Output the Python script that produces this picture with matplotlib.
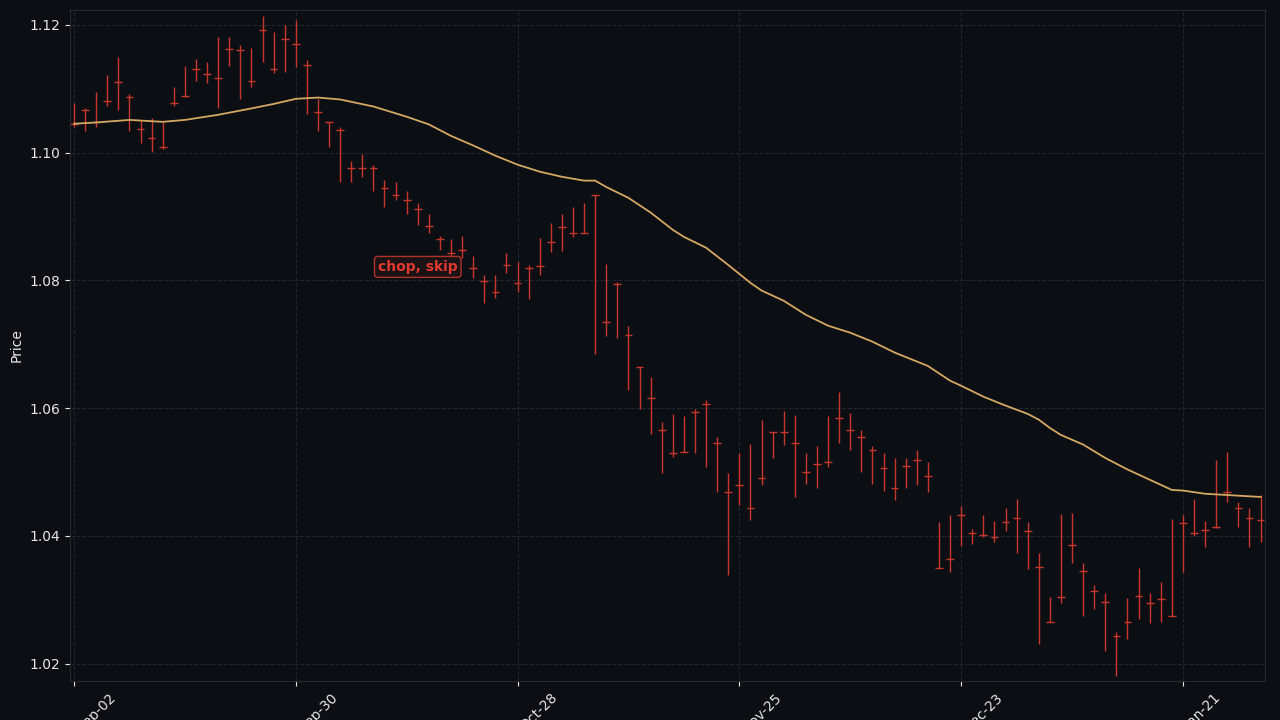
import matplotlib
matplotlib.use("Agg")
import matplotlib.pyplot as plt

high = [1.1078,1.1070,1.1094,1.1122,1.1150,1.1092,1.1051,1.1054,1.1048,1.1103,
        1.1136,1.1147,1.1141,1.1181,1.1181,1.1169,1.1164,1.1213,1.1189,1.1200,
        1.1208,1.1145,1.1083,1.1048,1.1040,1.0986,1.0998,1.0981,1.0957,1.0954,
        1.0939,1.0921,1.0903,1.0870,1.0864,1.0870,1.0838,1.0809,1.0809,1.0843,
        1.0828,1.0824,1.0867,1.0889,1.0904,1.0915,1.0921,1.0934,1.0826,1.0798,
        1.0729,1.0665,1.0649,1.0579,1.0591,1.0587,1.0599,1.0612,1.0555,1.0499,
        1.0530,1.0544,1.0582,1.0563,1.0596,1.0590,1.0529,1.0540,1.0587,1.0626,
        1.0593,1.0566,1.0541,1.0530,1.0522,1.0522,1.0535,1.0515,1.0422,1.0432,
        1.0447,1.0411,1.0432,1.0424,1.0444,1.0458,1.0422,1.0374,1.0305,1.0435,
        1.0436,1.0358,1.0324,1.0311,1.0250,1.0303,1.0350,1.0311,1.0328,1.0427,
        1.0432,1.0458,1.0424,1.0519,1.0532,1.0453,1.0444,1.0464]
low = [1.1040,1.1033,1.1040,1.1073,1.1067,1.1034,1.1015,1.1001,1.1006,1.1073,
       1.1087,1.1112,1.1109,1.1069,1.1136,1.1084,1.1103,1.1141,1.1125,1.1126,
       1.1134,1.1061,1.1033,1.1009,1.0954,1.0954,1.0962,1.0939,1.0914,1.0926,
       1.0903,1.0887,1.0874,1.0848,1.0835,1.0835,1.0804,1.0765,1.0773,1.0812,
       1.0782,1.0770,1.0809,1.0845,1.0846,1.0868,1.0874,1.0684,1.0713,1.0710,
       1.0629,1.0598,1.0560,1.0499,1.0524,1.0532,1.0529,1.0508,1.0469,1.0339,
       1.0449,1.0425,1.0480,1.0522,1.0543,1.0461,1.0482,1.0475,1.0508,1.0546,
       1.0535,1.0500,1.0482,1.0471,1.0457,1.0475,1.0480,1.0468,1.0350,1.0344,
       1.0385,1.0388,1.0399,1.0391,1.0407,1.0374,1.0349,1.0231,1.0266,1.0295,
       1.0358,1.0275,1.0286,1.0220,1.0181,1.0239,1.0270,1.0264,1.0266,1.0275,
       1.0344,1.0400,1.0383,1.0413,1.0453,1.0414,1.0383,1.0391]
close = [1.1045,1.1067,1.1048,1.1081,1.1111,1.1087,1.1037,1.1022,1.1009,1.1078,
         1.1089,1.1130,1.1123,1.1116,1.1162,1.1161,1.1112,1.1192,1.1131,1.1178,
         1.1170,1.1137,1.1064,1.1048,1.1036,1.0975,1.0976,1.0976,1.0945,1.0934,
         1.0926,1.0912,1.0885,1.0864,1.0843,1.0848,1.0820,1.0799,1.0782,1.0824,
         1.0796,1.0820,1.0823,1.0860,1.0884,1.0874,1.0874,1.0934,1.0734,1.0795,
         1.0715,1.0665,1.0616,1.0565,1.0530,1.0532,1.0594,1.0607,1.0546,1.0469,
         1.0480,1.0444,1.0491,1.0563,1.0563,1.0546,1.0500,1.0513,1.0515,1.0585,
         1.0565,1.0555,1.0535,1.0507,1.0475,1.0510,1.0519,1.0494,1.0350,1.0364,
         1.0433,1.0405,1.0402,1.0399,1.0422,1.0428,1.0407,1.0352,1.0266,1.0305,
         1.0386,1.0345,1.0314,1.0297,1.0244,1.0266,1.0306,1.0295,1.0302,1.0275,
         1.0421,1.0405,1.0410,1.0414,1.0468,1.0444,1.0428,1.0425]

ma_idx = [0,2,5,8,10,13,16,18,20,22,24,27,30,32,34,36,38,40,42,44,46,47,48,50,52,
          54,55,57,59,61,62,64,66,68,70,72,74,77,79,80,82,84,86,87,88,89,91,93,95,
          97,99,100,102,104,107]
ma_val = [1.1045,1.1047,1.1051,1.1048,1.1051,1.1059,1.1069,1.1076,1.1084,1.1086,
          1.1083,1.1072,1.1056,1.1044,1.1026,1.1011,1.0995,1.0981,1.0970,1.0962,
          1.0956,1.0956,1.0946,1.0929,1.0906,1.0879,1.0868,1.0851,1.0824,1.0796,
          1.0784,1.0768,1.0746,1.0729,1.0718,1.0704,1.0687,1.0666,1.0643,1.0635,
          1.0618,1.0604,1.0591,1.0582,1.0569,1.0558,1.0543,1.0522,1.0504,1.0488,
          1.0472,1.0471,1.0466,1.0464,1.0461]

tick_pos = [0, 20, 40, 60, 80, 100]
tick_labels = ["Sep-02", "Sep-30", "Oct-28", "Nov-25", "Dec-23", "Jan-21"]

BG = "#0b0e13"
RED = "#c8372b"
fig = plt.figure(figsize=(12.8, 7.2), dpi=100, facecolor=BG)
ax = fig.add_axes([70/1280, 1-681/720, 1195/1280, 671/720], facecolor=BG)

x = list(range(len(close)))
ax.vlines(x, low, high, color=RED, lw=1.0)
ax.hlines(close, [i - 0.35 for i in x], [i + 0.35 for i in x], color=RED, lw=1.0)
ax.plot(ma_idx, ma_val, color="#d4a862", lw=1.3)

ax.annotate("chop, skip", xy=(31.0, 1.0821), ha="center", va="center",
            color="#e03a30", fontsize=10, fontweight="bold",
            bbox=dict(boxstyle="round,pad=0.25", fc="#1a1214", ec="#b0332a", lw=1))

ax.set_xlim(-0.36, 107.4)
ax.set_ylim(1.0173, 1.1223)
ax.set_yticks([1.02, 1.04, 1.06, 1.08, 1.10, 1.12])
ax.set_yticklabels(["1.02", "1.04", "1.06", "1.08", "1.10", "1.12"])
ax.set_xticks(tick_pos)
ax.set_xticklabels(tick_labels, rotation=45, ha="left")
for lbl in ax.get_xticklabels():
    lbl.set_x(lbl.get_position()[0])
ax.tick_params(colors="#e6e6e6", labelsize=10)
ax.grid(True, color="#22262c", ls="--", lw=0.8)
ax.set_axisbelow(True)
for s in ax.spines.values():
    s.set_color("#23272e")
ax.set_ylabel("Price", color="#e6e6e6", fontsize=10)

fig.savefig("out.png", dpi=100, facecolor=BG)
